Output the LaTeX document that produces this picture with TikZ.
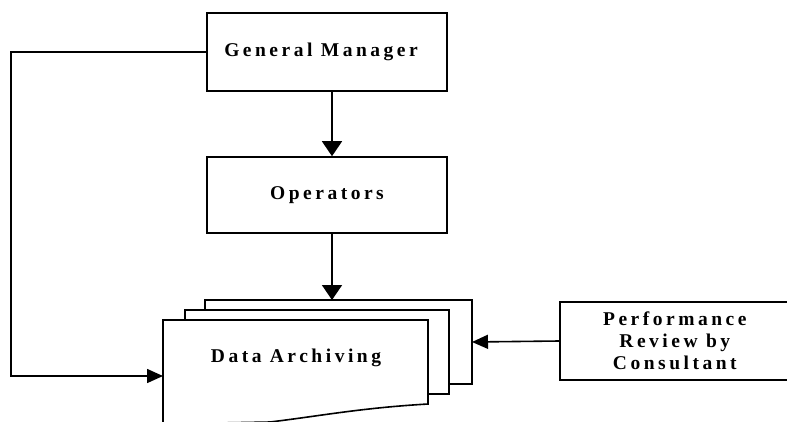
\documentclass[tikz,border=0pt]{standalone}
\usepackage{fontspec}
\setmainfont{Liberation Serif}[LetterSpace=18]
\usetikzlibrary{arrows.meta}
\begin{document}
\begin{tikzpicture}[x=1pt,y=-1pt,
  line width=1.6pt,
  every node/.style={font=\bfseries\fontsize{19.5}{22}\selectfont, align=center},
  boxnode/.style={draw, rectangle, inner sep=0pt},
  down/.style={-{Triangle[width=20pt,length=15pt]}},
  side/.style={-{Triangle[width=14pt,length=16pt]}}]
  \useasboundingbox (0,0) rectangle (787,421);

  % process boxes
  \node[boxnode, minimum width=240pt, minimum height=78pt] (gm) at (327,52)
    {\raisebox{3pt}{General Manager\hspace*{12pt}}};
  \node[boxnode, minimum width=240pt, minimum height=76pt] (op) at (327,195)
    {\raisebox{2pt}{Operators}};
  \node[boxnode, minimum width=230pt, minimum height=78pt, anchor=west] (pr) at (559,341)
    {Performance\\Review by\\Consultant};

  % stacked document shape
  \draw[fill=white] (205,300) rectangle (472,384);
  \draw[fill=white] (185,310) rectangle (449,394);
  \begin{scope}
    \clip (0,0) rectangle (787,421);
    \draw[fill=white] (163,320) -- (428,320) -- (428,404)
      .. controls (360,408) and (320,416) .. (270,422) -- (163,424) -- cycle;
  \end{scope}
  \node (da) at (296,358) {Data Archiving};
  \coordinate (back) at (472,342);
  \coordinate (front) at (163,376);
  \coordinate (stacktop) at (332,300);

  % connectors
  \draw[down] (gm.south -| 332,0) -- (op.north -| 332,0);
  \draw[down] (op.south -| 332,0) -- (stacktop);
  \draw[side] (gm.west) -- (11,47 |- gm.west) -- (11,376) -- (front);
  \draw[side] (pr.west) -- (back);
\end{tikzpicture}
\end{document}
